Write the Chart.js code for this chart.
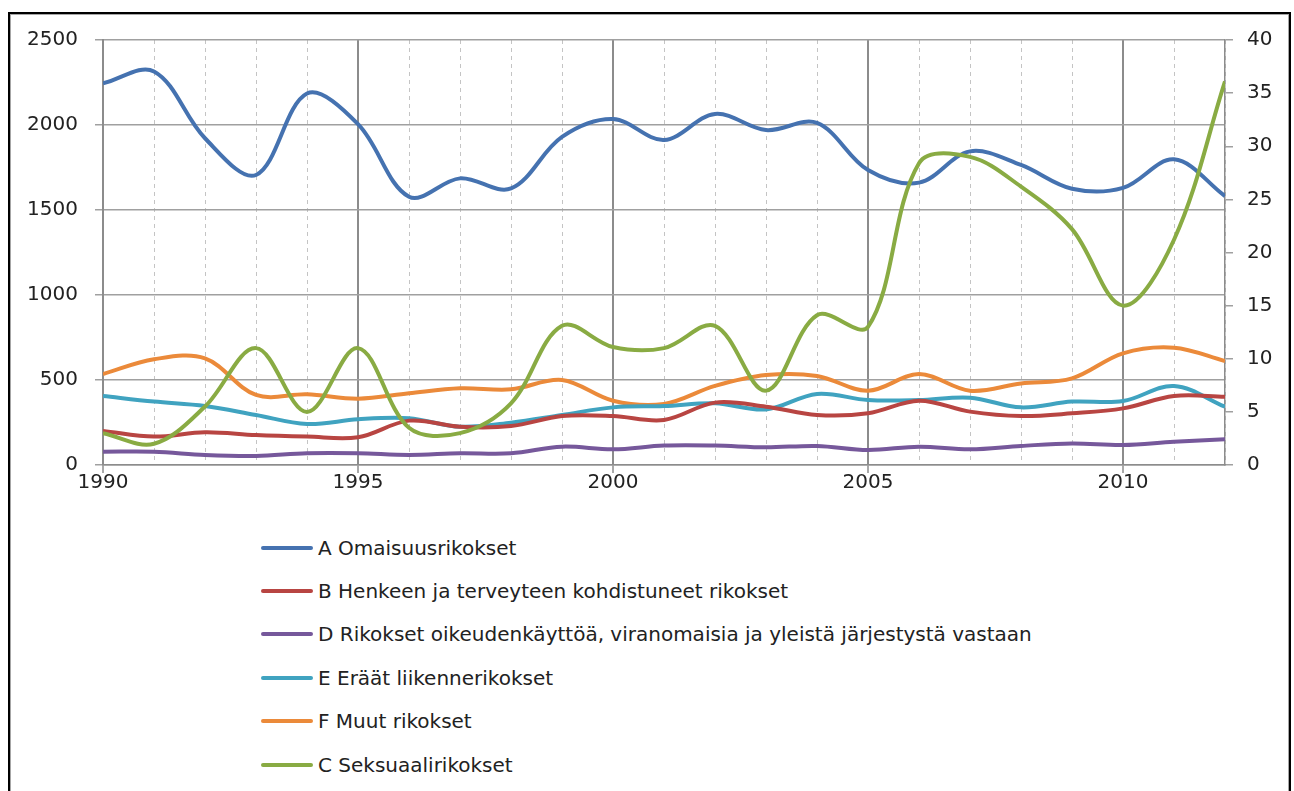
<!DOCTYPE html>
<html lang="fi">
<head>
    <meta charset="UTF-8">
    <title>Rikokset 1990-2012</title>
    <script src="https://cdn.jsdelivr.net/npm/chart.js"></script>
    <style>
        body {
            margin: 0;
            background: #fff;
            font-family: "DejaVu Sans", sans-serif;
        }

        #frame {
            position: absolute;
            left: 8px;
            top: 12px;
            width: 1279px;
            height: 800px;
            border: 2px solid #000;
            border-bottom: none;
            box-shadow: inset 1px 1px 0 #a6a6a6, inset -1px 0 0 #a6a6a6;
        }

        #chartBox {
            position: absolute;
            left: 0;
            top: 0;
        }

        #legend {
            position: absolute;
            left: 261px;
            top: 526px;
            margin: 0;
            padding: 0;
            list-style: none;
        }

        #legend li {
            height: 43.4px;
            display: flex;
            align-items: center;
            font-size: 20px;
            color: #222;
            white-space: nowrap;
        }

        #legend .swatch {
            width: 52px;
            height: 4px;
            border-radius: 2px;
            margin-right: 5px;
        }
    </style>
</head>
<body>
<div id="frame"></div>
<div id="chartBox"><canvas id="crimeChart" width="1294" height="520"></canvas></div>
<ul id="legend"></ul>

<script>
    // Years on the x axis, labels only every 5 years
    const years = [1990, 1991, 1992, 1993, 1994, 1995, 1996, 1997, 1998, 1999, 2000, 2001,
        2002, 2003, 2004, 2005, 2006, 2007, 2008, 2009, 2010, 2011, 2012];
    const labelYears = [1990, 1995, 2000, 2005, 2010];

    // Left axis series
    const omaisuus = [2245, 2315, 1922, 1706, 2185, 2005, 1578, 1686, 1627, 1930, 2035, 1912,
        2065, 1970, 2012, 1735, 1661, 1845, 1765, 1625, 1630, 1798, 1582];
    const henkeen = [200, 167, 193, 176, 167, 163, 261, 225, 229, 288, 288, 265,
        367, 343, 294, 304, 378, 314, 288, 304, 333, 406, 402];
    const oikeudenkaytto = [78, 78, 59, 53, 69, 69, 59, 69, 69, 108, 92, 114,
        114, 104, 112, 88, 108, 92, 112, 127, 118, 137, 151];
    const liikenne = [406, 373, 347, 294, 241, 269, 275, 225, 249, 294, 339, 347,
        363, 327, 418, 382, 382, 396, 339, 373, 376, 465, 343];
    const muut = [535, 622, 627, 412, 416, 390, 422, 451, 445, 500, 378, 359,
        465, 529, 524, 437, 535, 437, 480, 510, 657, 690, 612];

    // Right axis series
    const seksuaali = [3.0, 2.0, 5.5, 11.0, 5.0, 11.0, 3.5, 3.0, 5.8, 13.1, 11.1, 11.0,
        13.1, 7.0, 14.1, 13.0, 28.4, 29.0, 26.2, 22.2, 15.0, 21.2, 36.1];

    const points = vals => vals.map((v, i) => ({ x: years[i], y: v }));

    function series(label, vals, color, axis, order) {
        return {
            label: label,
            data: points(vals),
            borderColor: color,
            backgroundColor: color,
            borderWidth: 4,
            pointRadius: 0,
            tension: 0.35,
            yAxisID: axis,
            order: order
        };
    }

    Chart.defaults.font.family = '"DejaVu Sans", sans-serif';
    Chart.defaults.font.size = 20;
    Chart.defaults.color = '#222';

    const isMajor = v => v % 5 === 0 && v !== 2012;

    const chart = new Chart(document.getElementById('crimeChart'), {
        type: 'line',
        data: {
            datasets: [
                series('A Omaisuusrikokset', omaisuus, '#4572b0', 'y', 1),
                series('B Henkeen ja terveyteen kohdistuneet rikokset', henkeen, '#b84542', 'y', 1),
                series('D Rikokset oikeudenkäyttöä, viranomaisia ja yleistä järjestystä vastaan', oikeudenkaytto, '#76589b', 'y', 1),
                series('E Eräät liikennerikokset', liikenne, '#40a3c0', 'y', 1),
                series('F Muut rikokset', muut, '#eb8a3a', 'y', 1),
                series('C Seksuaalirikokset', seksuaali, '#89ab43', 'y1', 0)
            ]
        },
        options: {
            responsive: false,
            animation: false,
            layout: { padding: { top: 40 } },
            plugins: {
                legend: { display: false },
                tooltip: { enabled: false }
            },
            scales: {
                x: {
                    type: 'linear',
                    min: 1990,
                    max: 2012,
                    ticks: {
                        stepSize: 1,
                        autoSkip: false,
                        maxRotation: 0,
                        padding: -2,
                        callback: v => labelYears.includes(v) ? String(v) : ''
                    },
                    grid: {
                        color: ctx => isMajor(ctx.tick.value) ? '#8c8c8c' : '#c4c4c4',
                        lineWidth: ctx => isMajor(ctx.tick.value) ? 2 : 1,
                        tickLength: 8,
                        tickColor: ctx => isMajor(ctx.tick.value) ? '#8c8c8c' : 'rgba(0,0,0,0)',
                        tickWidth: 1.5
                    },
                    border: {
                        color: '#8c8c8c',
                        width: 1.5,
                        dash: ctx => isMajor(ctx.tick.value) ? [] : [4, 4]
                    },
                    afterFit: s => { s.height = 55; }
                },
                y: {
                    position: 'left',
                    min: 0,
                    max: 2500,
                    ticks: {
                        stepSize: 500,
                        padding: 17,
                        callback: v => String(v)
                    },
                    grid: { color: '#a0a0a0', lineWidth: 1.5, tickLength: 8 },
                    border: { color: '#8c8c8c', width: 2 },
                    afterFit: s => { s.width = 103; }
                },
                y1: {
                    position: 'right',
                    min: 0,
                    max: 40,
                    ticks: {
                        stepSize: 5,
                        padding: 14,
                        callback: v => String(v)
                    },
                    grid: { drawOnChartArea: false, color: '#a0a0a0', lineWidth: 1.5, tickLength: 8 },
                    border: { color: '#8c8c8c', width: 1.5 },
                    afterFit: s => { s.width = 69; }
                }
            }
        }
    });

    // One legend entry per row, in the dataset order
    const legend = document.getElementById('legend');
    chart.data.datasets.forEach(ds => {
        const li = document.createElement('li');
        const swatch = document.createElement('span');
        swatch.className = 'swatch';
        swatch.style.background = ds.borderColor;
        li.appendChild(swatch);
        li.appendChild(document.createTextNode(ds.label));
        legend.appendChild(li);
    });
</script>
</body>
</html>
